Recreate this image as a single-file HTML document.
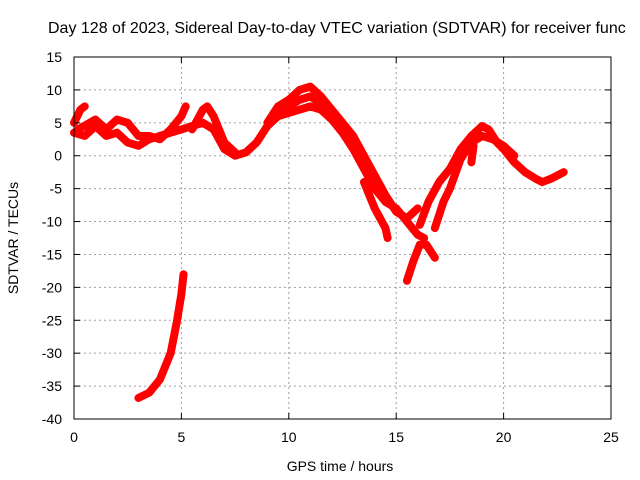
<!DOCTYPE html>
<html><head><meta charset="utf-8"><style>
html,body{margin:0;padding:0;background:#fff}
svg{display:block;font-family:"Liberation Sans",sans-serif}
</style></head><body>
<svg id="chart" width="640" height="480" viewBox="0 0 640 480" xmlns="http://www.w3.org/2000/svg">
<rect width="640" height="480" fill="#fff"/>
<text x="48" y="33" font-size="16" fill="#000">Day 128 of 2023, Sidereal Day-to-day VTEC variation (SDTVAR) for receiver func</text>
<text transform="translate(18,238) rotate(-90)" text-anchor="middle" font-size="14">SDTVAR / TECUs</text>
<text x="340" y="471" text-anchor="middle" font-size="14">GPS time / hours</text>
<g id="grid"></g>
<g id="series"></g>
<rect x="74" y="57" width="537" height="362" fill="none" stroke="#000" stroke-width="1"/>
<g id="ticks"></g>
</svg>
<script>
const xTicks=[0,5,10,15,20,25];
const yTicks=[15,10,5,0,-5,-10,-15,-20,-25,-30,-35,-40];
const traceLowBand=[[0,3.5],[0.5,3],[1,4.5],[1.5,3],[2,3.5],[2.5,2],[3,1.5],[3.5,2.5],[4,3],[4.5,3.5],[5,4],[5.5,4.5],[6,5],[6.5,4],[7,1],[7.5,0],[8,0.5],[8.5,2],[9,4.5],[9.5,6],[10,6.5],[10.5,7],[11,7.5],[11.5,7],[12,5.5],[12.5,3.5],[13,1],[13.5,-2],[14,-5],[14.5,-7],[15,-8],[15.5,-10],[16,-12],[16.3,-12.5]];
const traceUpperEarly=[[0,5],[0.3,7],[0.5,7.5]];
const traceUpperMid=[[0.2,4],[1,5.5],[1.5,4],[2,5.5],[2.5,5],[3,3],[3.5,3],[4,2.5],[4.5,4],[5,6],[5.2,7.5]];
const traceSpike6=[[5.5,4],[6,7],[6.2,7.5],[6.5,6],[7,2],[7.5,0.5]];
const traceUpperPeak=[[9,5],[9.5,7.5],[10,8.5],[10.5,10],[11,10.5],[11.5,9],[12,7],[12.5,5],[13,3],[13.5,0],[14,-3],[14.5,-6],[15,-8.5],[15.5,-9.5],[16,-8]];
const traceMidPeak=[[9.5,6.5],[10,7.5],[10.5,8.5],[11,9],[11.5,8],[12,6.5]];
const traceDropA=[[13.5,-4],[14,-8],[14.5,-11],[14.6,-12.5]];
const traceDropB=[[15.5,-19],[15.8,-16],[16.1,-13.5],[16.4,-13.5],[16.8,-15.5]];
const traceRecovery=[[16.1,-10.5],[16.5,-7],[17,-4],[17.5,-2],[18,1],[18.5,3],[19,4.5],[19.3,4],[19.7,2],[20,1],[20.5,-1],[21,-2.5],[21.5,-3.5],[21.8,-4],[22.2,-3.5],[22.8,-2.5]];
const traceRecovery2=[[16.8,-11],[17.2,-7],[17.5,-5],[18,-0.5],[18.5,2],[19,3],[19.5,2.5],[20,1.5],[20.5,0]];
const traceLow=[[3,-36.8],[3.5,-36],[4,-34],[4.5,-30],[4.8,-25],[5,-21],[5.1,-18]];
const traceStub=[[18.6,1.5],[18.5,-1]];
const allTraces=[traceLowBand,traceUpperEarly,traceUpperMid,traceSpike6,traceUpperPeak,traceMidPeak,traceDropA,traceDropB,traceRecovery,traceRecovery2,traceLow,traceStub];
const X0=74,X1=611,Y0=57,Y1=419;
function xs(t){return X0+(t-0)/(25-0)*(X1-X0);}
function ys(v){return Y0+(15-v)/(15-(-40))*(Y1-Y0);}
const NS="http://www.w3.org/2000/svg";
const grid=document.getElementById('grid'),ticks=document.getElementById('ticks'),ser=document.getElementById('series');
function mk(tag,attrs,parent){const e=document.createElementNS(NS,tag);for(const k in attrs)e.setAttribute(k,attrs[k]);parent.appendChild(e);return e;}
xTicks.forEach(t=>{const x=xs(t);
 if(t>0&&t<25){const g=mk('line',{x1:x,x2:x,y1:Y0,y2:Y1,stroke:'#a0a0a0','stroke-dasharray':'2,3'},grid);
 
 }
 const a=mk('line',{x1:x,x2:x,y1:Y1,y2:Y1-6,stroke:'#000'},ticks);
 
 
 const b=mk('line',{x1:x,x2:x,y1:Y0,y2:Y0+6,stroke:'#000'},ticks);
 
 
 const l=mk('text',{x:x,y:Y1+23,'text-anchor':'middle','font-size':'14'},ticks);l.textContent=t;
 
 
});
yTicks.forEach(v=>{const y=ys(v);
 if(v<15&&v>-40){const g=mk('line',{x1:X0,x2:X1,y1:y,y2:y,stroke:'#a0a0a0','stroke-dasharray':'2,3'},grid);
 
 }
 const a=mk('line',{x1:X0,x2:X0+6,y1:y,y2:y,stroke:'#000'},ticks);
 
 
 const b=mk('line',{x1:X1,x2:X1-6,y1:y,y2:y,stroke:'#000'},ticks);
 
 
 const l=mk('text',{x:X0-12,y:y+5,'text-anchor':'end','font-size':'14'},ticks);l.textContent=v;
 
 
});
allTraces.forEach(tr=>{
 const p=mk('polyline',{points:tr.map(d=>xs(d[0])+','+ys(d[1])).join(' '),fill:'none',stroke:'#ff0000','stroke-width':'8','stroke-linejoin':'round','stroke-linecap':'round'},ser);
 
 
});
</script>
</body></html>
